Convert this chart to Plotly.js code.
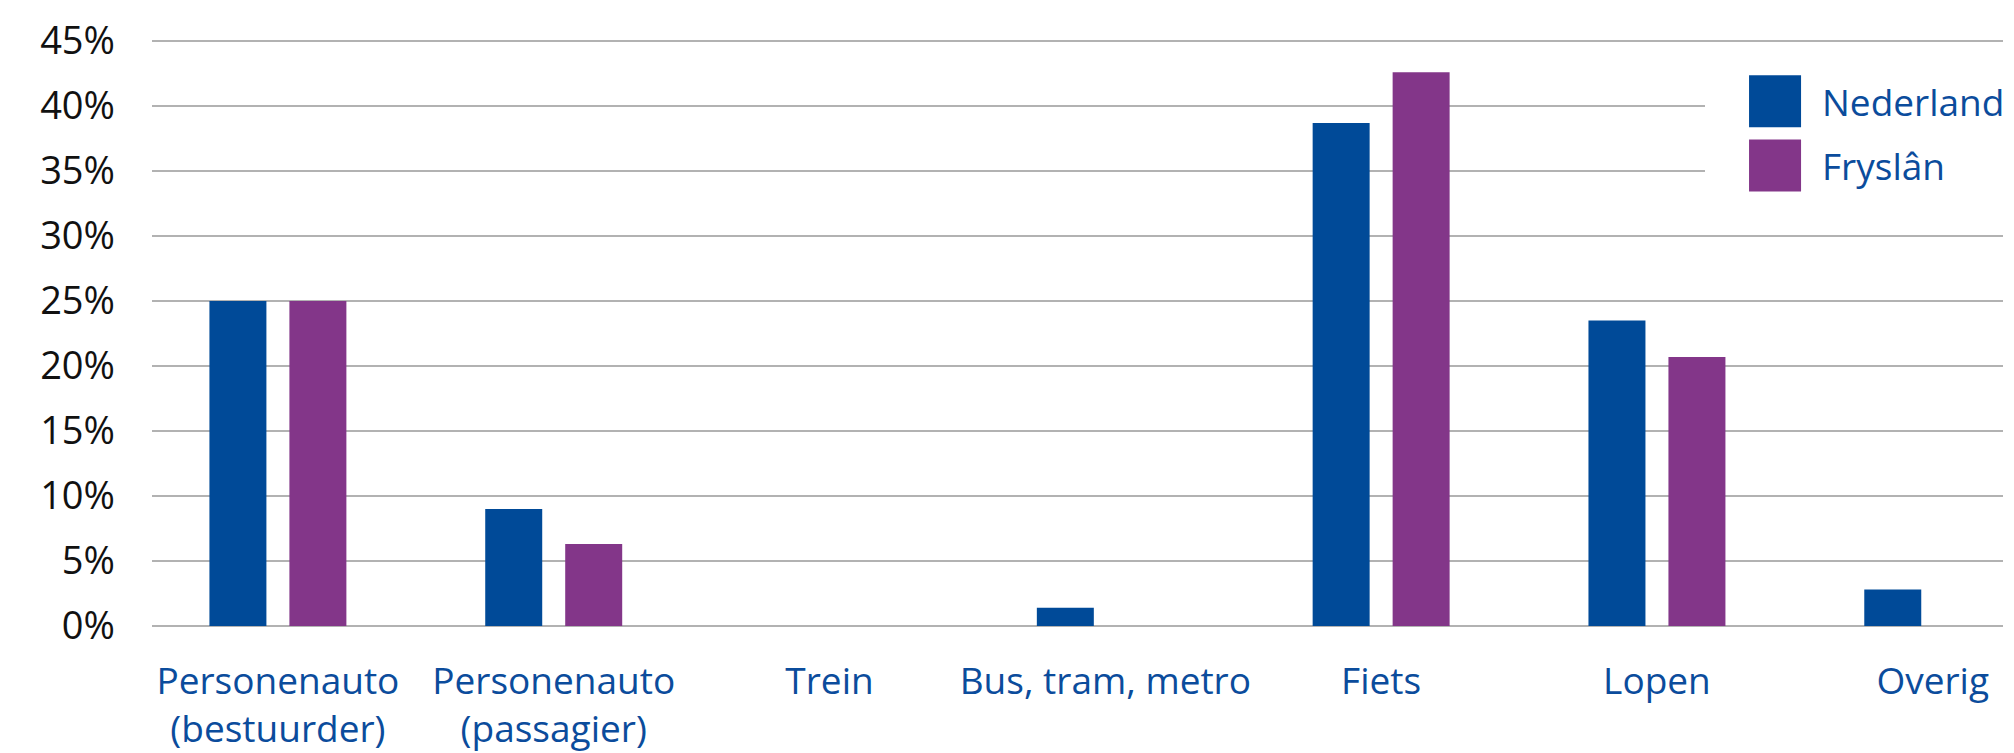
<!DOCTYPE html>
<html>
<head>
<meta charset="utf-8">
<script src="https://cdn.plot.ly/plotly-3.0.1.min.js"></script>
<style>
  html, body { margin: 0; padding: 0; background: #ffffff; }
  #chart { width: 2014px; height: 753px; }
</style>
</head>
<body>
<div id="chart"></div>
<script>
// Categories (x-axis)
const categories = [
  "Personenauto<br>(bestuurder)",
  "Personenauto<br>(passagier)",
  "Trein",
  "Bus, tram, metro",
  "Fiets",
  "Lopen",
  "Overig"
];

// Series names
const seriesNames = ["Nederland", "Fryslân"];

// Values in percent
const nederland = [25.0, 9.0, null, 1.4, 38.7, 23.5, 2.8];
const fryslan   = [25.0, 6.3, null, null, 42.6, 20.7, null];

// Colours
const seriesColors = ["#004a98", "#833689"];

// Y ticks
const yTickVals = [0, 5, 10, 15, 20, 25, 30, 35, 40, 45];
const yTickText = yTickVals.map(v => v + "%");

const textBlue = "#0b4c9c";
const fontFamily = "'Open Sans', 'Noto Sans', sans-serif";

const seriesValues = [nederland, fryslan];
const traces = seriesNames.map((name, i) => ({
  type: "bar",
  name: name,
  x: categories,
  y: seriesValues[i],
  marker: { color: seriesColors[i] },
  hoverinfo: "skip",
  showlegend: false
}));

// Custom legend (large squares) built from the series definitions
const shapes = [{
  type: "rect", xref: "paper", yref: "paper",
  x0: 0.839, x1: 1.01, y0: 0.712, y1: 0.946,
  fillcolor: "#ffffff", line: { width: 0 }, layer: "above"
}];
const annotations = [];
const legendY = [[0.834, 0.921], [0.7266, 0.8135]];
seriesNames.forEach((name, i) => {
  shapes.push({
    type: "rect", xref: "paper", yref: "paper",
    x0: 0.8628, x1: 0.8909, y0: legendY[i][0], y1: legendY[i][1],
    fillcolor: seriesColors[i], line: { width: 0 }, layer: "above"
  });
  annotations.push({
    xref: "paper", yref: "paper",
    x: 0.9011, y: (legendY[i][0] + legendY[i][1]) / 2,
    xanchor: "left", yanchor: "middle",
    text: name, showarrow: false,
    font: { family: fontFamily, size: 37, color: textBlue }
  });
});

const layout = {
  width: 2014,
  height: 753,
  margin: { l: 152, r: 11, t: 28, b: 127, pad: 0 },
  paper_bgcolor: "#ffffff",
  plot_bgcolor: "#ffffff",
  barmode: "group",
  bargap: 0.42,
  bargroupgap: 0.2875,
  showlegend: false,
  xaxis: {
    type: "category",
    range: [-0.4565, 6.2547],
    showgrid: false,
    showline: false,
    zeroline: false,
    ticks: "",
    tickfont: { family: fontFamily, size: 37, color: textBlue },
    ticklabelstandoff: 30,
    fixedrange: true
  },
  yaxis: {
    range: [0, 46],
    tickmode: "array",
    tickvals: yTickVals,
    ticktext: yTickText,
    showgrid: true,
    gridcolor: "#b2b2b2",
    gridwidth: 2.5,
    zeroline: true,
    zerolinecolor: "#b2b2b2",
    zerolinewidth: 2.5,
    showline: false,
    ticks: "",
    ticklabelstandoff: 36,
    tickfont: { family: fontFamily, size: 38, color: "#111111" },
    fixedrange: true
  },
  shapes: shapes,
  annotations: annotations
};

Plotly.newPlot("chart", traces, layout, { staticPlot: true, displayModeBar: false });
</script>
</body>
</html>
